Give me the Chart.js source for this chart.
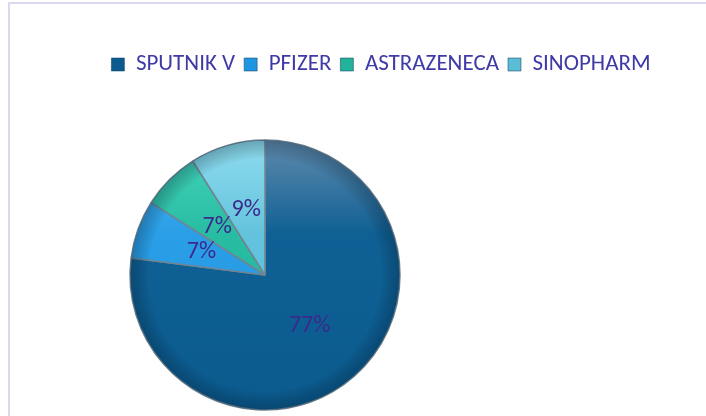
<!DOCTYPE html>
<html>
<head>
<meta charset="utf-8">
<script src="https://cdn.jsdelivr.net/npm/chart.js@4/dist/chart.umd.min.js"></script>
<style>
  html, body { margin: 0; padding: 0; background: #ffffff; overflow: hidden; }
  #frame { position: absolute; left: 8px; top: 2px; width: 900px; height: 600px;
           border: 2px solid #dcd8f2; box-sizing: border-box; }
  #wrap { position: absolute; left: 0; top: 0; width: 706px; height: 416px; }
</style>
</head>
<body>
<div id="frame"></div>
<div id="wrap"><canvas id="c" width="706" height="416"></canvas></div>
<script>
// ---- data ----
const categories = ["SPUTNIK V", "PFIZER", "ASTRAZENECA", "SINOPHARM"];
const shares = [77, 7, 7, 9];
// ---- styling ----
const baseColors = ["#0b5b8f", "#2196e0", "#22b39a", "#5bbcd6"];
const lightColors = ["#5f8aac", "#48b6f4", "#45d4bc", "#8fdcef"];
const midColors = ["#0f6094", "#2a9ee6", "#28bca3", "#63c3dc"];

const FONT = "Carlito, 'Liberation Sans Narrow', 'Open Sans', sans-serif";
const PIE = { cx: 265, cy: 275, r: 135 };

function sliceFill(ctx) {
  const i = ctx.dataIndex;
  if (ctx.type !== 'data') return baseColors[i];
  const g = ctx.chart.ctx.createLinearGradient(0, PIE.cy - PIE.r, 0, PIE.cy + PIE.r);
  g.addColorStop(0, lightColors[i]);
  g.addColorStop(0.35, midColors[i]);
  g.addColorStop(1, baseColors[i]);
  return g;
}

const placePlugin = {
  id: 'place',
  afterLayout(chart) {
    const ca = chart.chartArea;
    ca.left = PIE.cx - PIE.r; ca.right = PIE.cx + PIE.r;
    ca.top = PIE.cy - PIE.r; ca.bottom = PIE.cy + PIE.r;
    ca.width = 2 * PIE.r; ca.height = 2 * PIE.r;
  }
};

const rimPlugin = {
  id: 'rim',
  afterDatasetsDraw(chart) {
    const arc = chart.getDatasetMeta(0).data[0];
    if (!arc) return;
    const { x, y, outerRadius } = arc.getProps(['x', 'y', 'outerRadius'], true);
    const c = chart.ctx;
    c.save();
    c.beginPath();
    c.arc(x, y, outerRadius, 0, Math.PI * 2);
    c.clip();
    const g = c.createRadialGradient(x, y, outerRadius * 0.86, x, y, outerRadius);
    g.addColorStop(0, 'rgba(0,0,0,0)');
    g.addColorStop(1, 'rgba(0,20,40,0.28)');
    c.fillStyle = g;
    c.fillRect(x - outerRadius, y - outerRadius, outerRadius * 2, outerRadius * 2);
    c.restore();
  }
};

const labelPlugin = {
  id: 'pctLabels',
  afterDatasetsDraw(chart) {
    const meta = chart.getDatasetMeta(0);
    const data = chart.data.datasets[0].data;
    const total = data.reduce((a, b) => a + b, 0);
    const c = chart.ctx;
    c.save();
    c.font = "24px " + FONT;
    c.fillStyle = "#3b2a8c";
    c.textAlign = "center";
    c.textBaseline = "middle";
    meta.data.forEach((arc, i) => {
      const p = arc.tooltipPosition(true);
      c.fillText(Math.round(data[i] / total * 100) + "%", p.x, p.y);
    });
    c.restore();
  }
};

new Chart(document.getElementById('c'), {
  type: 'pie',
  data: {
    labels: categories,
    datasets: [{
      data: shares,
      backgroundColor: sliceFill,
      borderColor: "#6f8593",
      borderWidth: 1.5,
      radius: PIE.r,
      clip: false
    }]
  },
  options: {
    responsive: false,
    animation: false,
    layout: { padding: { top: 44, left: 56, right: 0, bottom: 0 } },
    plugins: {
      tooltip: { enabled: false },
      legend: {
        position: 'top',
        align: 'center',
        labels: {
          boxWidth: 13,
          boxHeight: 13,
          padding: 9,
          color: "#3f3aa6",
          font: { size: 23, family: FONT },
          generateLabels(chart) {
            return chart.data.labels.map((l, i) => ({
              text: l,
              fillStyle: baseColors[i],
              strokeStyle: "#0a3a5a",
              lineWidth: 0.5,
              fontColor: "#3f3aa6",
              index: i,
              hidden: false
            }));
          }
        }
      }
    }
  },
  plugins: [placePlugin, rimPlugin, labelPlugin]
});
</script>
</body>
</html>
